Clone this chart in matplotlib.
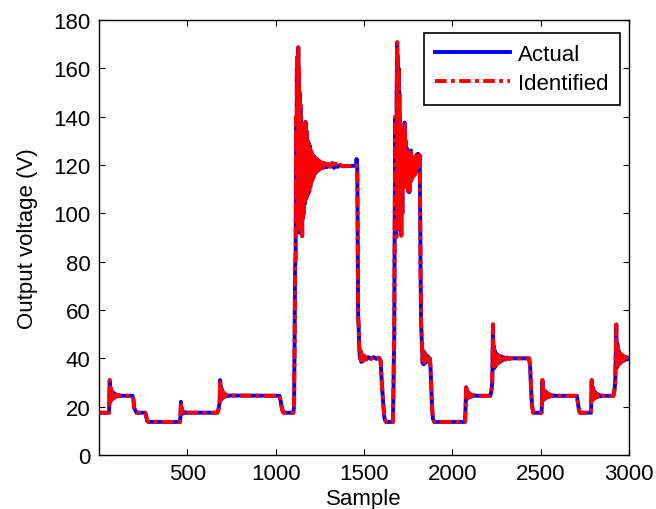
import matplotlib
matplotlib.use("Agg")
import matplotlib.pyplot as plt

plt.rcParams['font.family'] = ['Liberation Sans', 'DejaVu Sans']

# (sample, output voltage), in order along the trace
start_part = [
    (1, 17.5), (57, 17.5), (59, 24), (61, 31), (63, 22), (65, 28), (67, 22.5),
    (69, 27), (71, 23), (74, 26.3), (77, 23.3), (80, 25.8), (84, 23.6),
    (88, 25.4), (93, 24), (98, 25), (105, 24.3), (115, 24.7), (125, 24.5),
    (190, 24.5), (195, 23), (199, 19.5), (206, 18.5), (212, 17.5),
    (262, 17.5), (267, 16), (273, 14.2), (280, 13.7),
    (459, 13.7), (462, 18), (464, 22), (466, 17), (468, 19.5), (471, 17),
    (474, 18.3), (478, 17.3), (484, 17.8), (492, 17.5),
    (670, 17.5), (677, 19), (683, 22), (686, 31), (688, 23), (690, 28.5),
    (692, 23), (694, 27.5), (697, 23.3), (700, 26.3), (704, 23.8), (708, 25.6),
    (713, 24.1), (720, 25), (730, 24.4), (740, 24.6),
    (1022, 24.5), (1029, 22), (1036, 19), (1044, 17.5),
    (1100, 17.5), (1104, 20), (1107, 45), (1110, 78), (1113, 82),
]

burst_1 = [
    (1116, 140), (1118, 95), (1120, 160), (1122, 100), (1124, 165), (1126, 93),
    (1128, 168.7), (1130, 96), (1132, 160), (1134, 92), (1136, 150), (1138, 100),
    (1140, 145), (1142, 95), (1144, 140), (1146, 92), (1148, 135), (1150, 90.6),
    (1152, 130), (1154, 98), (1157, 132), (1160, 100), (1163, 136), (1166, 104),
    (1169, 137.8), (1172, 106), (1175, 134), (1178, 107), (1181, 130), (1184, 108),
    (1187, 129), (1190, 109), (1193, 128), (1196, 111), (1199, 126), (1202, 113),
    (1205, 125), (1208, 114), (1211, 124), (1214, 115), (1217, 123.5), (1220, 116),
    (1224, 123), (1228, 117), (1232, 122.5), (1236, 117.5), (1240, 122),
    (1245, 118), (1250, 121.5), (1255, 118.5), (1260, 121), (1266, 118.8),
    (1272, 120.8), (1278, 119), (1285, 120.5), (1292, 119.2), (1300, 120.3),
    (1310, 119.3), (1320, 120.8), (1330, 118.8), (1340, 120.5), (1350, 119.2),
    (1365, 120), (1380, 119.5), (1455, 119.7), (1458, 122.5),
]

middle_part = [
    (1462, 119), (1465, 80), (1467, 57), (1470, 53), (1473, 45), (1477, 40),
    (1481, 43), (1485, 38.5), (1490, 41.5), (1496, 39), (1503, 41), (1512, 39.5),
    (1525, 40.5), (1540, 39.8), (1555, 40.5), (1570, 39.8), (1585, 40.2),
    (1594, 39), (1600, 31), (1608, 22), (1616, 15), (1624, 13.7),
    (1664, 13.7), (1667, 30), (1669, 40), (1671, 47),
]

burst_2 = [
    (1674, 100), (1677, 140), (1680, 95), (1683, 90.2), (1685, 150),
    (1688, 170.8), (1690, 100), (1692, 165), (1694, 95), (1696, 160), (1698, 100),
    (1700, 150), (1702, 96), (1704, 140), (1706, 93), (1708, 135), (1711, 90.8),
    (1714, 130), (1717, 100), (1720, 128), (1723, 112), (1726, 132), (1728, 114),
    (1730, 137.6), (1733, 111), (1736, 130), (1739, 115), (1742, 127), (1745, 113),
    (1748, 125), (1751, 109), (1754, 123), (1757, 108.8), (1760, 122), (1763, 113),
    (1766, 126), (1769, 114), (1772, 123), (1775, 115), (1778, 122), (1781, 115.6),
    (1784, 123), (1787, 116), (1790, 123.5), (1793, 117), (1796, 124), (1799, 118),
    (1802, 124.5), (1805, 119), (1808, 124.5), (1812, 121), (1815, 124),
]

end_part = [
    (1818, 100), (1820, 78), (1823, 55), (1826, 49), (1829, 44), (1832, 38),
    (1835, 43), (1838, 37.5), (1842, 42.5), (1846, 38), (1850, 41.5), (1855, 38.5),
    (1860, 41), (1866, 39.3), (1872, 40), (1876, 37), (1880, 30), (1885, 20),
    (1890, 15), (1898, 13.7),
    (2072, 13.7), (2075, 20), (2078, 28), (2080, 23), (2083, 27), (2086, 23.5),
    (2089, 26), (2093, 23.8), (2097, 25.5), (2102, 24), (2108, 25), (2115, 24.3),
    (2125, 24.7), (2135, 24.5),
    (2215, 24.5), (2222, 27), (2226, 30), (2230, 54), (2233, 37), (2236, 45),
    (2239, 36), (2242, 43), (2245, 37), (2248, 42), (2252, 37.5), (2256, 41.5),
    (2260, 38), (2265, 41), (2270, 38.5), (2276, 40.8), (2282, 39), (2290, 40.5),
    (2300, 39.5), (2310, 40.3), (2320, 39.8), (2330, 40),
    (2435, 40), (2440, 37), (2444, 30), (2448, 24), (2452, 20), (2458, 17.5),
    (2505, 17.5), (2508, 22), (2510, 31), (2513, 23), (2516, 27), (2519, 23),
    (2522, 26.5), (2526, 23.4), (2530, 26), (2535, 23.8), (2540, 25.5), (2546, 24),
    (2553, 25), (2560, 24.3), (2570, 24.7), (2580, 24.5),
    (2705, 24.5), (2710, 22), (2716, 19), (2722, 17.5),
    (2785, 17.5), (2787, 25), (2789, 31), (2791, 23), (2794, 28), (2797, 23),
    (2800, 27), (2803, 23.3), (2807, 26), (2811, 23.8), (2816, 25.5), (2822, 24),
    (2828, 25), (2836, 24.3), (2845, 24.6), (2855, 24.5),
    (2912, 24.5), (2918, 27), (2922, 30), (2928, 54), (2931, 36), (2934, 46),
    (2937, 37), (2940, 43.5), (2943, 37.5), (2946, 42.5), (2950, 38), (2954, 41.8),
    (2958, 38.5), (2962, 41.3), (2967, 39), (2972, 40.8), (2978, 39.3),
    (2985, 40.5), (2992, 39.6), (3000, 40),
]

trace = start_part + burst_1 + middle_part + burst_2 + end_part
sample = [p[0] for p in trace]
actual = [p[1] for p in trace]
identified = list(actual)
# the identified trace misses the small blip at the end of the 120 V plateau
identified[sample.index(1458)] = 120.0

fig = plt.figure(figsize=(6.56, 5.10), dpi=100)
ax = fig.add_axes([99 / 656, 54 / 510, 530 / 656, 435 / 510])

ax.plot(sample, actual, color='b', lw=2.8, label='Actual', zorder=2)
ax.plot(sample, identified, color='r', lw=2.8, dashes=(3.0, 1.1, 1.0, 1.1),
        label='Identified', zorder=3)

ax.set_xlim(0, 3000)
ax.set_ylim(0, 180)
ax.set_xticks([500, 1000, 1500, 2000, 2500, 3000])
ax.set_yticks(range(0, 181, 20))
ax.tick_params(direction='in', length=4, width=0.8, top=True, right=True,
               labelsize=16)
ax.tick_params(axis='x', pad=6)
ax.tick_params(axis='y', pad=6)
for s in ax.spines.values():
    s.set_linewidth(1.0)

ax.set_xlabel('Sample', fontsize=16, labelpad=3)
ax.set_ylabel('Output voltage (V)', fontsize=16, labelpad=11)

leg = ax.legend(loc='upper right', bbox_to_anchor=(620 / 656, 476 / 510),
                bbox_transform=fig.transFigure, fontsize=16, handlelength=3.35,
                fancybox=False, framealpha=1, edgecolor='k', borderpad=0.5,
                labelspacing=0.35, handletextpad=0.4, borderaxespad=0)
leg.get_frame().set_linewidth(1.2)

fig.savefig('out.png', dpi=100)
